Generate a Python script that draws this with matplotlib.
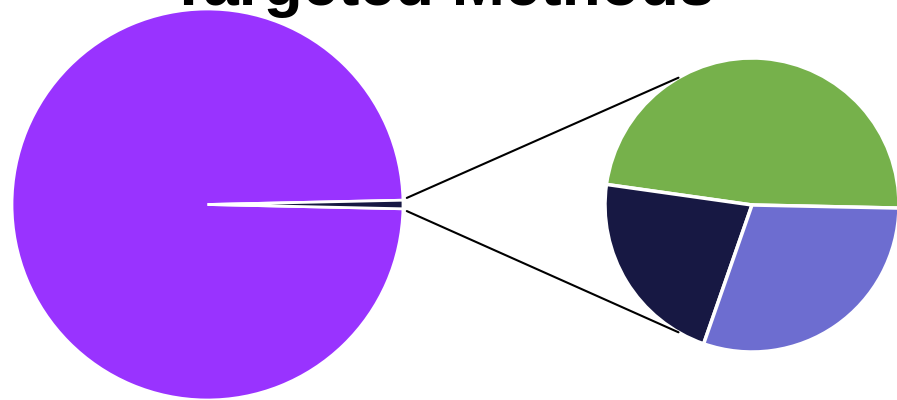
import numpy as np
import matplotlib
matplotlib.use("Agg")
import matplotlib.pyplot as plt
from matplotlib.patches import ConnectionPatch

title = "Targeted Methods"
main_labels = ["Other", "Targeted"]
main_values = [99.3, 0.7]
main_colors = ["#9933FF", "#171843"]

sub_labels = ["Method A", "Method B", "Method C"]
sub_values = [48.1, 21.9, 30.0]
sub_colors = ["#76B14B", "#171843", "#6D6DD0"]

W, H = 897, 400
fig = plt.figure(figsize=(W / 100, H / 100), dpi=100)

# big pie
cx1, cy1, r1 = 207.5, 400 - 204.5, 195.5
ax1 = fig.add_axes([(cx1 - r1) / W, (cy1 - r1) / H, 2 * r1 / W, 2 * r1 / H])
frac = main_values[1] / sum(main_values)
half = frac * 360 / 2
ax1.pie(main_values, colors=main_colors, startangle=-half - (1 - frac) * 360,
        radius=1, wedgeprops=dict(edgecolor="white", linewidth=2))
ax1.set_xlim(-1, 1)
ax1.set_ylim(-1, 1)
ax1.set_aspect("equal")
ax1.axis("off")

# small pie
cx2, cy2, r2 = 752, 400 - 205, 147
ax2 = fig.add_axes([(cx2 - r2) / W, (cy2 - r2) / H, 2 * r2 / W, 2 * r2 / H])
ax2.pie(sub_values, colors=sub_colors, startangle=-1.2, radius=1,
        wedgeprops=dict(edgecolor="white", linewidth=2.5))
ax2.set_xlim(-1, 1)
ax2.set_ylim(-1, 1)
ax2.set_aspect("equal")
ax2.axis("off")

# connection lines
for sgn, ang in [(1, 120), (-1, 240)]:
    t = np.deg2rad(sgn * half * 1.5)
    xyA = (1.02 * np.cos(t), 1.02 * np.sin(t))
    a = np.deg2rad(ang)
    xyB = (np.cos(a), np.sin(a))
    con = ConnectionPatch(xyA=xyA, coordsA=ax1.transData,
                          xyB=xyB, coordsB=ax2.transData,
                          color="black", linewidth=1.5)
    fig.add_artist(con)

fig.text(442 / W, 1 - 5.5 / H, title, ha="center", va="baseline",
         fontsize=46, fontweight="bold", family=["Liberation Sans", "DejaVu Sans"])

fig.savefig("out.png", dpi=100, facecolor="white")
